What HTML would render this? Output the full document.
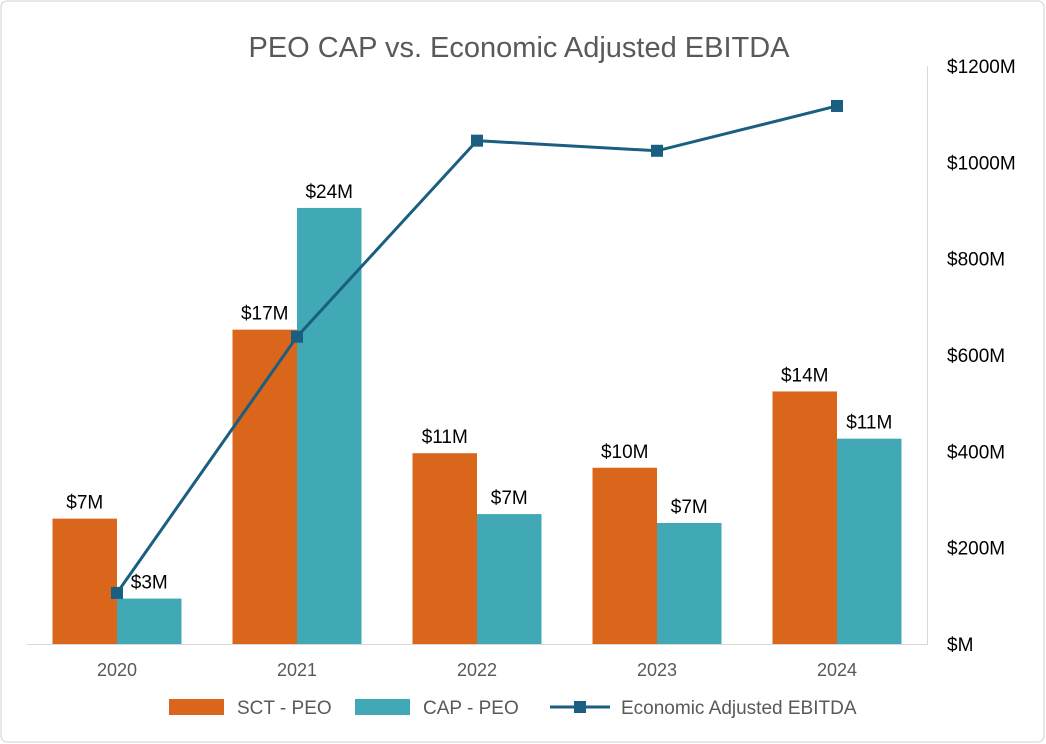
<!DOCTYPE html>
<html><head><meta charset="utf-8"><style>
html,body{margin:0;padding:0;background:#fff;}
svg{display:block;font-family:"Liberation Sans",Carlito,sans-serif;}
</style></head><body>
<svg id="chart" width="1046" height="744">
<rect x="1" y="1" width="1043" height="741" rx="6" fill="#fff" stroke="#d0d0d0"/>
<text x="519" y="57" text-anchor="middle" font-size="29" fill="#595959">PEO CAP vs. Economic Adjusted EBITDA</text>
<line x1="27" y1="644.5" x2="927" y2="644.5" stroke="#d9d9d9"/>
<line x1="927.5" y1="66" x2="927.5" y2="645" stroke="#d9d9d9"/>
<g id="bars"></g><g id="line"></g><g id="labels"></g><g id="ticks"></g>
<g>
<rect x="169" y="699" width="55" height="16" fill="#D9661A"/>
<text x="237" y="714" font-size="19" fill="#595959">SCT - PEO</text>
<rect x="355" y="699" width="55" height="16" fill="#41A8B5"/>
<text x="423" y="714" font-size="19" fill="#595959">CAP - PEO</text>
<line x1="550" y1="707" x2="610" y2="707" stroke="#1A5E80" stroke-width="3"/>
<rect x="574" y="701" width="12" height="12" fill="#1A5E80"/>
<text x="621" y="714" font-size="19" fill="#595959">Economic Adjusted EBITDA</text>
</g>
</svg>
<script>
const categories=["2020","2021","2022","2023","2024"];
const sctValues=[6.9,17.3,10.5,9.7,13.9];
const capValues=[2.5,24.0,7.15,6.66,11.3];
const sctLabels=["$7M","$17M","$11M","$10M","$14M"];
const capLabels=["$3M","$24M","$7M","$7M","$11M"];
const ebitdaValues=[106,638,1045,1024,1117];
const rightTicks=[0,200,400,600,800,1000,1200];
const rightTickLabels=["$M","$200M","$400M","$600M","$800M","$1000M","$1200M"];

const NS="http://www.w3.org/2000/svg";
const base=644, plotL=27, catW=180, barW=64.5;
const yL=v=>base-v*18.17;
const yR=v=>base-v*(578/1200);
const xC=i=>plotL+catW*i+catW/2;
function mk(tag,attrs,parent){const e=document.createElementNS(NS,tag);for(const k in attrs)e.setAttribute(k,attrs[k]);document.getElementById(parent).appendChild(e);return e;}
categories.forEach((c,i)=>{
 let r=mk('rect',{x:xC(i)-barW,y:yL(sctValues[i]),width:barW,height:base-yL(sctValues[i]),fill:'#D9661A'},'bars');
 
 
 r=mk('rect',{x:xC(i),y:yL(capValues[i]),width:barW,height:base-yL(capValues[i]),fill:'#41A8B5'},'bars');
 
 
 let t=mk('text',{x:xC(i)-barW/2,y:yL(sctValues[i])-10,'text-anchor':'middle','font-size':19,fill:'#000'},'labels');
 t.textContent=sctLabels[i];
 
 
 t=mk('text',{x:xC(i)+barW/2,y:yL(capValues[i])-10,'text-anchor':'middle','font-size':19,fill:'#000'},'labels');
 t.textContent=capLabels[i];
 
 
 t=mk('text',{x:xC(i),y:676,'text-anchor':'middle','font-size':18,fill:'#595959'},'ticks');
 t.textContent=c;
 
 
});
const pts=ebitdaValues.map((v,i)=>xC(i)+','+yR(v)).join(' ');
const pl=mk('polyline',{points:pts,fill:'none',stroke:'#1A5E80','stroke-width':3},'line');


ebitdaValues.forEach((v,i)=>{
 const m=mk('rect',{x:xC(i)-6,y:yR(v)-6,width:12,height:12,fill:'#1A5E80'},'line');
 
 
});
rightTicks.forEach((v,i)=>{
 const t=mk('text',{x:947,y:yR(v)+7,'font-size':19,fill:'#000'},'ticks');
 t.textContent=rightTickLabels[i];
 
 
});
</script>
</body></html>
